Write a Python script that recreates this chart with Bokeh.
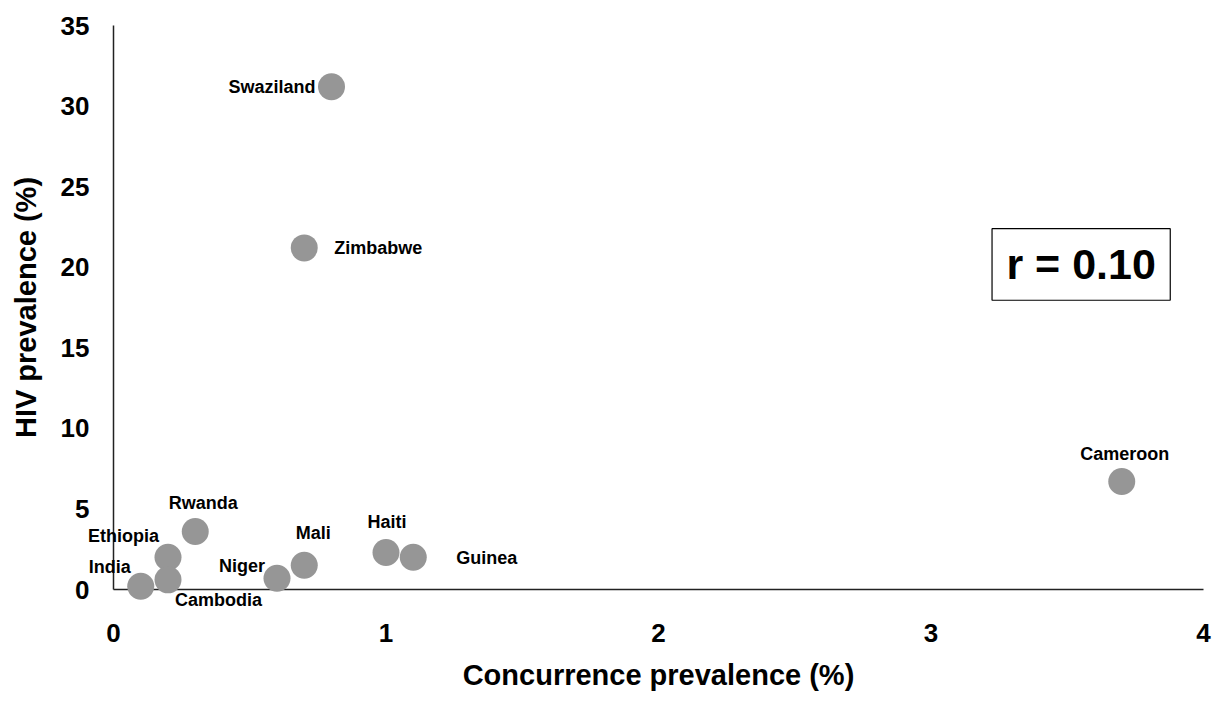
from bokeh.plotting import figure
from bokeh.models import ColumnDataSource, Range1d, FixedTicker, Label
from bokeh.core.properties import value
from bokeh.embed import file_html
from bokeh.resources import INLINE

# Concurrence vs HIV prevalence by country
countries = ["Swaziland", "Zimbabwe", "Cameroon", "Rwanda", "Ethiopia", "India",
             "Cambodia", "Niger", "Mali", "Haiti", "Guinea"]
concurrence = [0.8, 0.7, 3.7, 0.3, 0.2, 0.1, 0.2, 0.6, 0.7, 1.0, 1.1]
hiv = [31.2, 21.2, 6.7, 3.6, 2.0, 0.2, 0.6, 0.7, 1.5, 2.3, 2.0]
x_ticks = [0, 1, 2, 3, 4]
y_ticks = [0, 5, 10, 15, 20, 25, 30, 35]
r_value = 0.10

# label placement relative to each marker (pixels, screen y down) and alignment
label_dx = [-16, 30, 3, 8, -9, -10, 7, -12, 9, 1, 43]
label_dy = [0, 0, -28, -28, -21, -19, 20, -12, -32, -30, 1]
label_align = ["right", "left", "center", "center", "right", "right",
               "left", "right", "center", "center", "left"]

FONT = "Liberation Sans"

src = ColumnDataSource(dict(
    x=concurrence, y=hiv, name=countries,
    dx=label_dx, dy=label_dy, align=label_align,
))

p = figure(width=1214, height=702, output_backend="svg", toolbar_location=None,
           x_range=Range1d(0, 4), y_range=Range1d(0, 35),
           min_border_left=113, min_border_right=11,
           min_border_top=25, min_border_bottom=113)
p.outline_line_color = None
p.xgrid.visible = False
p.ygrid.visible = False
p.background_fill_color = "white"
p.border_fill_color = "white"

for ax in (p.xaxis[0], p.yaxis[0]):
    ax.axis_line_color = "#222222"
    ax.axis_line_width = 1.5
    ax.major_tick_line_color = None
    ax.minor_tick_line_color = None
    ax.major_tick_out = 0
    ax.major_tick_in = 0
    ax.minor_tick_out = 0
    ax.major_label_text_font = FONT
    ax.major_label_text_font_style = "bold"
    ax.major_label_text_font_size = "26px"
    ax.major_label_text_color = "black"
    ax.axis_label_text_font = FONT
    ax.axis_label_text_font_style = "bold"
    ax.axis_label_text_font_size = "29px"
    ax.axis_label_text_color = "black"

p.xaxis.ticker = FixedTicker(ticks=x_ticks)
p.yaxis.ticker = FixedTicker(ticks=y_ticks)
p.xaxis.major_label_standoff = 34
p.yaxis.major_label_standoff = 24
p.xaxis.axis_label = "Concurrence prevalence (%)"
p.yaxis.axis_label = "HIV prevalence (%)"
p.xaxis.axis_label_standoff = 14
p.yaxis.axis_label_standoff = 16

# markers and names sit on the overlay level so that those near the axes
# are drawn whole instead of being cut at the frame edge
p.scatter("x", "y", source=src, size=27, fill_color="#969696",
          line_color="#969696", line_width=0, level="overlay")

p.text("x", "y", text="name", source=src, x_offset="dx", y_offset="dy",
       text_align="align", text_baseline="middle",
       text_font=value(FONT), text_font_style="bold",
       text_font_size="18px", text_color="black", level="overlay")

# correlation box
p.rect(x=[3.551], y=[20.17], width=0.654, height=4.44,
       fill_color="white", line_color="black", line_width=1.2)
p.add_layout(Label(x=3.551, y=20.17, text=f"r = {r_value:.2f}",
                   text_align="center", text_baseline="middle",
                   text_font=FONT, text_font_style="bold",
                   text_font_size="43px", text_color="black"))

open("out.html", "w").write(file_html(p, INLINE))
